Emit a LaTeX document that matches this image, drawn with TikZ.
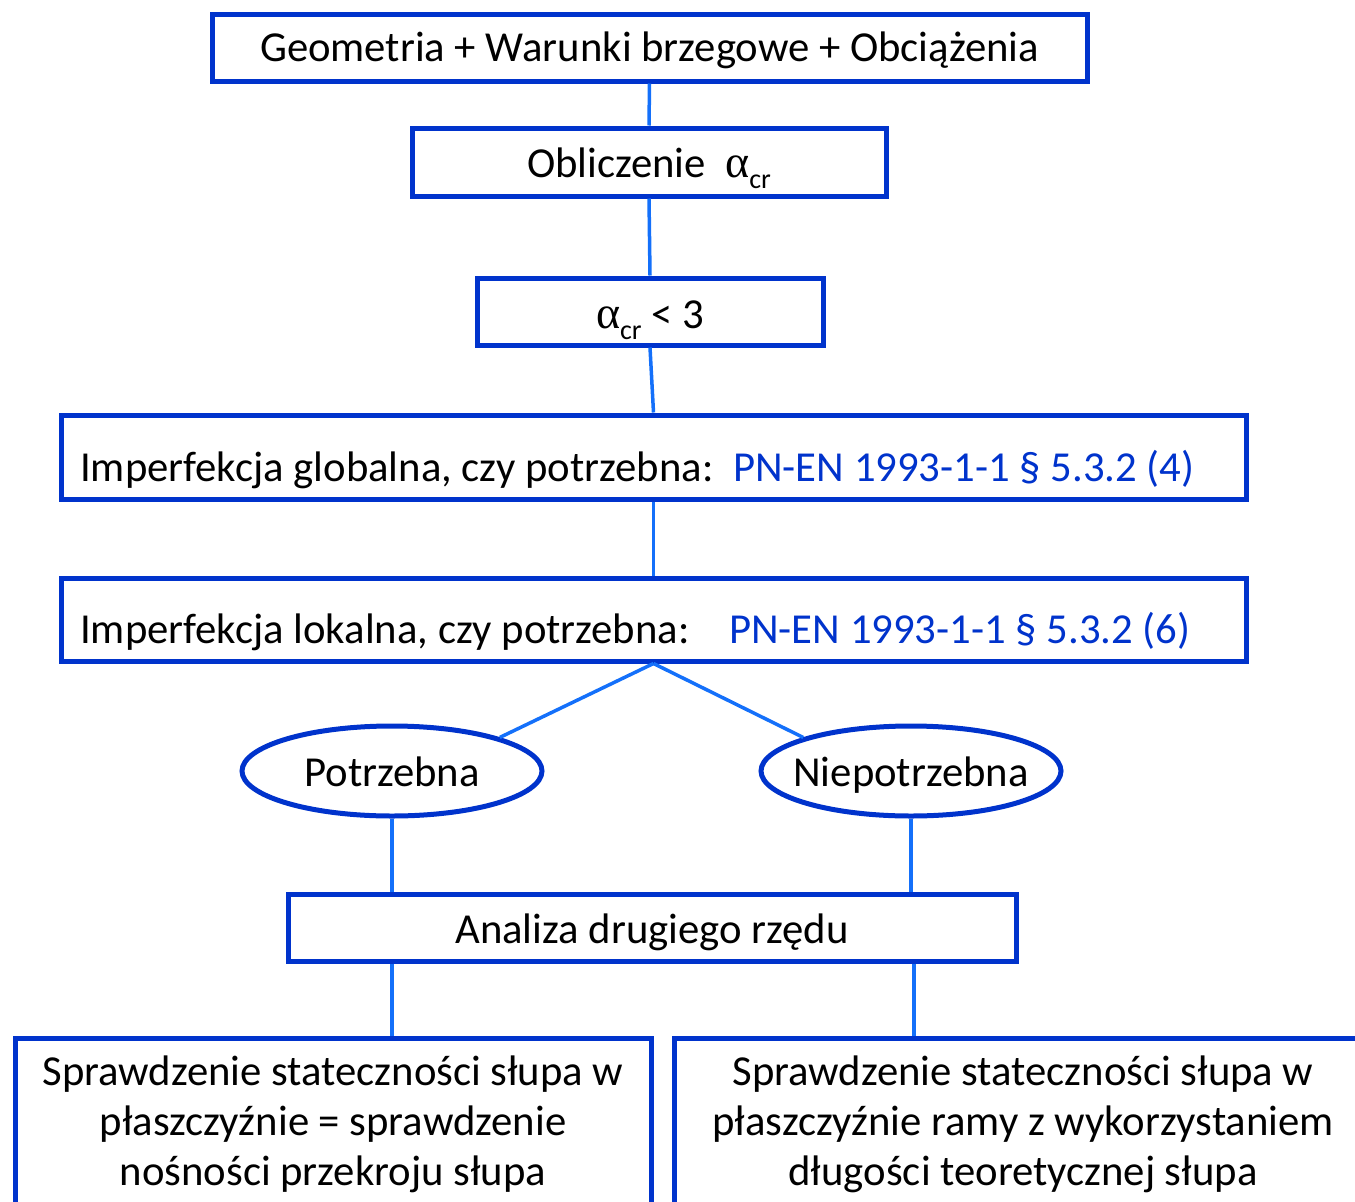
\documentclass[tikz,border=0pt]{standalone}
\usepackage{fontspec}
\setmainfont{Carlito}
\newfontfamily\greekfont{Liberation Serif}
\usetikzlibrary{shapes.geometric}
\definecolor{boxblue}{RGB}{0,51,204}
\definecolor{linkblue}{RGB}{20,112,250}
\definecolor{refblue}{RGB}{0,51,204}
\newcommand{\acr}{{\greekfont\fontsize{46}{50}\selectfont α}\raisebox{-0.28em}{\fontsize{28}{28}\selectfont cr}}
\tikzset{
  bbox/.style={draw=boxblue, line width=5pt, rectangle, inner sep=0pt, fill=white},
  ebox/.style={draw=boxblue, line width=5pt, ellipse, inner sep=0pt, fill=white, minimum width=300pt, minimum height=90pt},
  link/.style={draw=linkblue, line width=3.5pt},
  txt/.style={inner sep=0pt, anchor=base, font=\fontsize{42.7}{50}\selectfont},
  ltxt/.style={inner sep=0pt, anchor=base west, font=\fontsize{42.7}{50}\selectfont},
}
\begin{document}
\begin{tikzpicture}[x=1pt,y=-1pt]
\useasboundingbox (0,0) rectangle (1355,1202);
\clip (0,0) rectangle (1355,1202);
% boxes
\node[bbox, minimum width=875pt, minimum height=67pt] (b1) at (649.5,47.5) {};
\node[bbox, minimum width=474pt, minimum height=68pt] (b2) at (649,162) {};
\node[bbox, minimum width=346pt, minimum height=67pt] (b3) at (650,311.5) {};
\node[bbox, minimum width=1185pt, minimum height=84pt] (b4) at (653.5,457) {};
\node[bbox, minimum width=1185pt, minimum height=83pt] (b5) at (653.5,619.5) {};
\node[ebox] (e1) at (392,771) {};
\node[ebox] (e2) at (911,771) {};
\node[bbox, minimum width=728pt, minimum height=67pt] (b6) at (652,927.5) {};
\node[bbox, minimum width=636pt, minimum height=200pt, anchor=north] (b7) at (333,1036) {};
\node[bbox, minimum width=700pt, minimum height=200pt, anchor=north] (b8) at (1024,1036) {};
% connectors
\draw[link] (b1.south) -- (b2.north);
\draw[link] (b2.south) -- (b3.north);
\draw[link] (b3.south) -- (b4.north);
\draw[link] (b4.south) -- (b5.north);
\draw[link] (b5.south) -- (e1.north east);
\draw[link] (b5.south) -- (e2.north west);
\draw[link] (e1.south) -- (e1.south |- b6.north);
\draw[link] (e2.south) -- (e2.south |- b6.north);
\draw[link] (e1.south |- b6.south) -- (e1.south |- b7.north);
\draw[link] ([xshift=3pt]e2.south |- b6.south) -- ([xshift=3pt]e2.south |- b8.north);
% texts
\node[txt] (t1) at (649.5,61) {Geometria + Warunki brzegowe + Obciążenia};
\node[txt] (t2) at (649,177) {Obliczenie \ \acr};
\node[txt] (t3) at (650,328) {\acr{} < 3};
\node[ltxt] (t4) at (80,481) {Imperfekcja globalna, czy potrzebna:};
\node[ltxt, text=refblue] (t4r) at (733,481) {PN-EN 1993-1-1 § 5.3.2 (4)};
\node[ltxt] (t5) at (80,643) {Imperfekcja lokalna, czy potrzebna:};
\node[ltxt, text=refblue] (t5r) at (729,643) {PN-EN 1993-1-1 § 5.3.2 (6)};
\node[txt] (t6) at (392,786) {Potrzebna};
\node[txt] (t7) at (911,786) {Niepotrzebna};
\node[txt] (t8) at (652,943) {Analiza drugiego rzędu};
\node[txt] (t9a) at (333,1085) {Sprawdzenie stateczności słupa w};
\node[txt] (t9b) at (333,1135) {płaszczyźnie = sprawdzenie};
\node[txt] (t9c) at (333,1185) {nośności przekroju słupa};
\node[txt] (t10a) at (1023,1085) {Sprawdzenie stateczności słupa w};
\node[txt] (t10b) at (1023,1135) {płaszczyźnie ramy z wykorzystaniem};
\node[txt] (t10c) at (1023,1185) {długości teoretycznej słupa};
\end{tikzpicture}
\end{document}
